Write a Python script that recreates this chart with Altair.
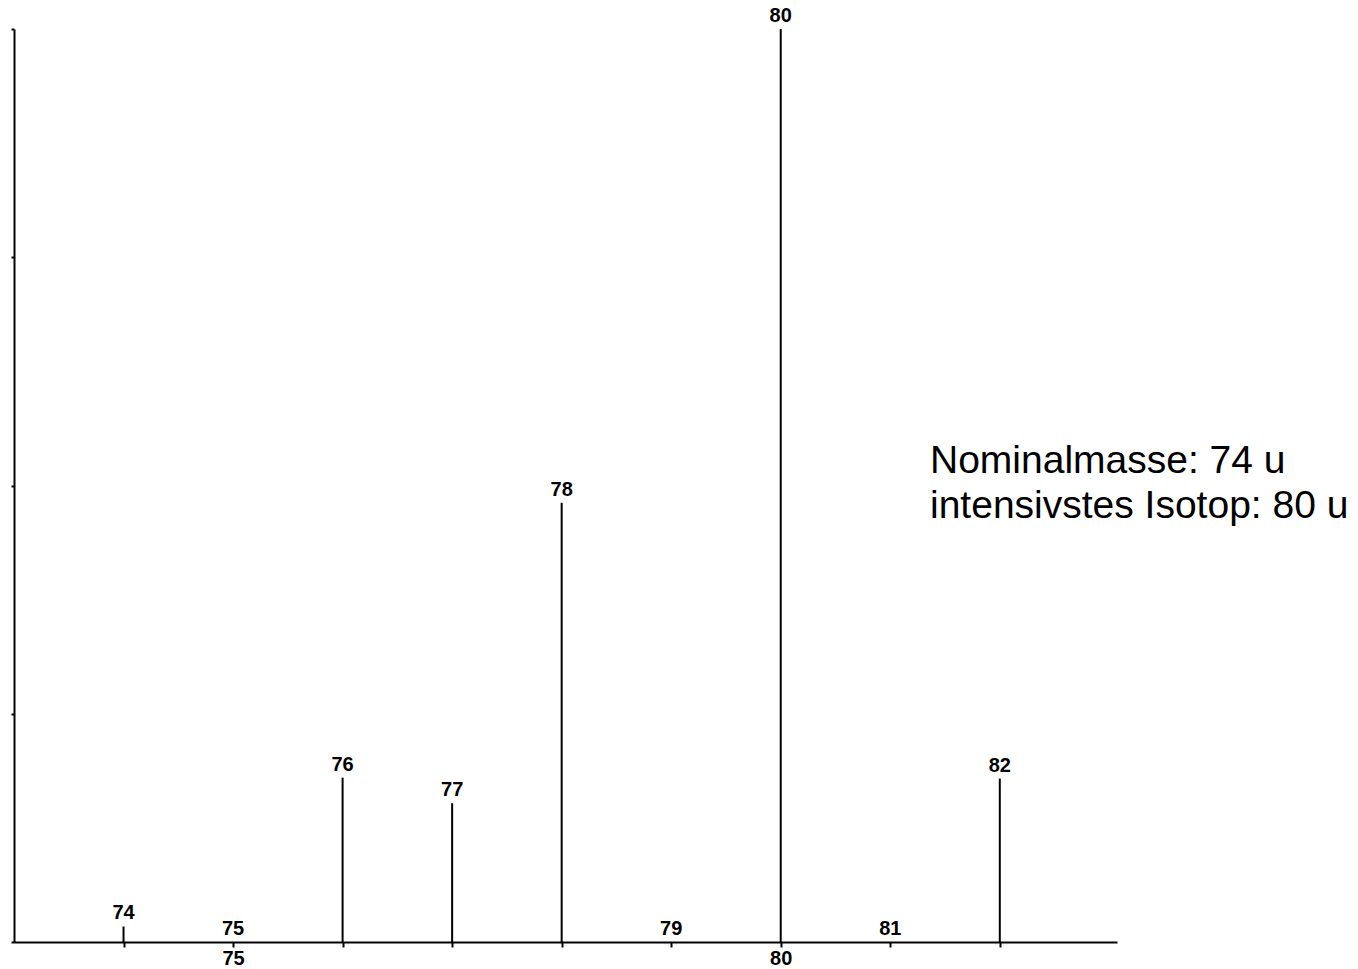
import altair as alt
import pandas as pd

masses = [74, 75, 76, 77, 78, 79, 80, 81, 82]
intensities = [1.7, 0.0, 18.0, 15.2, 48.1, 0.0, 100.0, 0.0, 17.9]
labels = [str(m) for m in masses]
axis_ticks = [74, 75, 76, 77, 78, 79, 80, 81, 82]
y_ticks = [0, 25, 50, 75, 100]
note_lines = ["Nominalmasse: 74 u", "intensivstes Isotop: 80 u"]

df = pd.DataFrame({"mass": masses, "intensity": intensities, "label": labels})

x_scale = alt.Scale(domain=[73, 83.07], nice=False, zero=False)
y_scale = alt.Scale(domain=[0, 100], nice=False)

x_axis = alt.Axis(
    values=axis_ticks, title=None, grid=False, format="d",
    labelExpr="datum.value % 5 == 0 ? datum.label : ''",
    labelFont="Liberation Sans", labelFontWeight="bold", labelFontSize=20,
    labelColor="black", labelPadding=1, tickSize=5, tickWidth=2,
    tickColor="black", domainColor="black", domainWidth=2,
)
y_axis = alt.Axis(
    values=y_ticks, title=None, grid=False, labels=False,
    tickSize=3, tickWidth=2, tickColor="black",
    domainColor="black", domainWidth=2,
)

base = alt.Chart(df)

sticks = base.mark_rule(color="black", strokeWidth=2).encode(
    x=alt.X("mass:Q", scale=x_scale, axis=x_axis),
    y=alt.Y("intensity:Q", scale=y_scale, axis=y_axis),
    y2=alt.datum(0),
)

peak_labels = base.mark_text(
    font="Liberation Sans", fontWeight="bold", fontSize=20,
    baseline="bottom", dy=-3, color="black",
).encode(
    x=alt.X("mass:Q", scale=x_scale),
    y=alt.Y("intensity:Q", scale=y_scale),
    text="label:N",
)

note = alt.Chart(pd.DataFrame({"t": ["\n".join(note_lines)]})).mark_text(
    font="Liberation Sans", fontSize=39, align="left", baseline="alphabetic",
    lineBreak="\n", lineHeight=45, color="black",
).encode(
    x=alt.value(916),
    y=alt.value(444),
    text="t:N",
)

chart = alt.layer(sticks, peak_labels, note).properties(
    width=1103, height=913,
    autosize=alt.AutoSizeParams(type="none"),
    padding={"left": 14, "top": 29, "right": 241, "bottom": 27},
    background="white",
).configure_view(stroke=None)

chart.save("out.html", embed_options={"renderer": "svg", "actions": False})
